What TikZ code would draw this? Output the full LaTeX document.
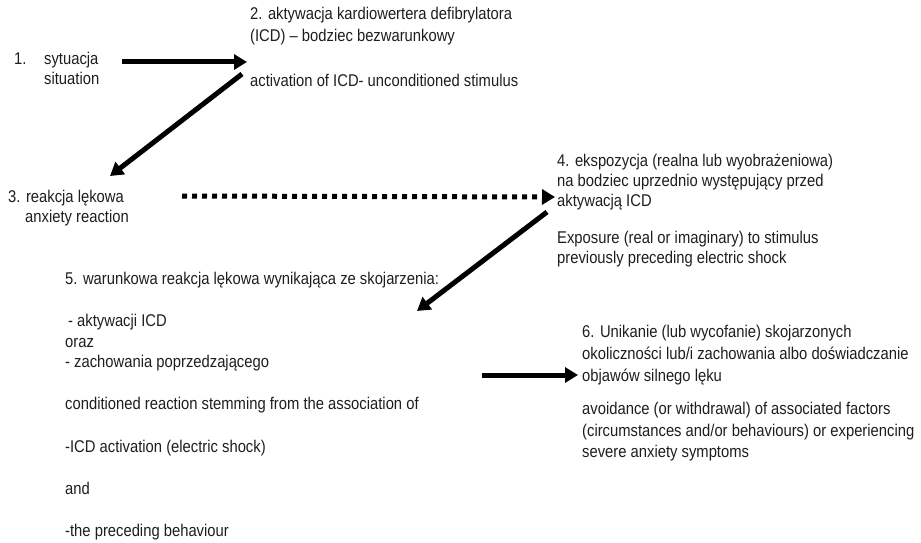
\documentclass[tikz,border=0pt]{standalone}
\usepackage{fontspec}
\setmainfont{Liberation Sans}[FakeStretch=0.87]
\usepackage{tikz}
\usetikzlibrary{arrows.meta}
\definecolor{TextGray}{HTML}{1E1E1E}

\begin{document}
\begin{tikzpicture}[
      x=1pt,y=-1pt,
      font=\fontsize{17}{21}\selectfont,
      txt/.style={anchor=north west,inner sep=0pt,align=left,text=TextGray},
      arr/.style={line width=5pt,-{Triangle[length=13pt,width=15pt]}},
      dotarr/.style={arr,dash pattern=on 5pt off 5pt}
    ]
      \useasboundingbox (0,0) rectangle (921,543);
      \node[txt] (sit) at (14,52) {\makebox[30pt][l]{1.}sytuacja\\[-1pt]\hspace*{30pt}situation};
      \node[txt] (icd) at (250,7) {2. aktywacja kardiowertera defibrylatora\\[1pt](ICD) -- bodziec bezwarunkowy\\[24pt]activation of ICD- unconditioned stimulus};
      \node[txt] (anx) at (8,190) {3. reakcja lękowa\\[-1pt]\hspace*{17pt}anxiety reaction};
      \node[txt] (exp) at (557,154) {4. ekspozycja (realna lub wyobrażeniowa)\\[-1pt]na bodziec uprzednio występujący przed\\[-1pt]aktywacją ICD\\[16pt]Exposure (real or imaginary) to stimulus\\[-1pt]previously preceding electric shock};
      \node[txt] (cond) at (65,272) {5. warunkowa reakcja lękowa wynikająca ze skojarzenia:\\[21pt]\hspace*{3pt}- aktywacji ICD\\oraz\\[-1pt]- zachowania poprzedzającego\\[21pt]conditioned reaction stemming from the association of\\[22pt]-ICD activation (electric shock)\\[21pt]and\\[21pt]-the preceding behaviour};
      \node[txt] (avoid) at (582,325) {6. Unikanie (lub wycofanie) skojarzonych\\[1pt]okoliczności lub/i zachowania albo doświadczanie\\[1pt]objawów silnego lęku\\[12pt]avoidance (or withdrawal) of associated factors\\[1pt](circumstances and/or behaviours) or experiencing\\[0pt]severe anxiety symptoms};
      \draw[arr] ([xshift=23pt,yshift=-10pt]sit.north east) -- ([xshift=-3pt,yshift=-55pt]icd.north west);
      \draw[arr] ([xshift=-8pt,yshift=-67pt]icd.north west) -- ([xshift=102pt,yshift=14pt]anx.north west);
      \draw[dotarr] ([xshift=174pt,yshift=-6pt]anx.north west) -- ([xshift=-2pt,yshift=-43pt]exp.north west);
      \draw[arr] ([xshift=-10pt,yshift=-58pt]exp.north west) -- ([xshift=352pt,yshift=-39pt]cond.north west);
      \draw[arr] ([xshift=417pt,yshift=-103pt]cond.north west) -- ([xshift=-4pt,yshift=-50pt]avoid.north west);
    \end{tikzpicture}
\end{document}
